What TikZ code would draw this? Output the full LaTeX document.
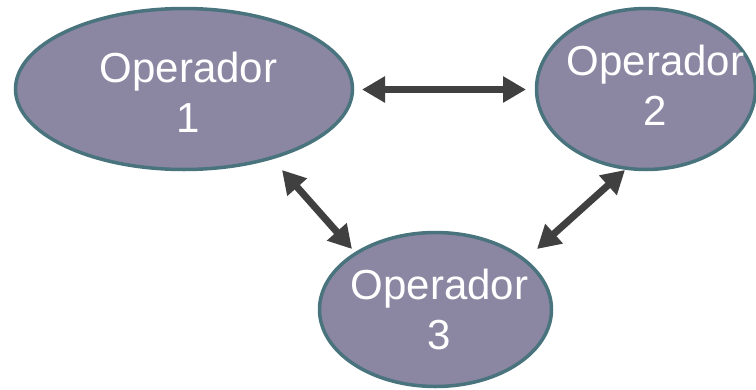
\documentclass[tikz,border=0pt]{standalone}
\usepackage{fontspec}
\setmainfont{Liberation Sans}
\usetikzlibrary{shapes.geometric,arrows.meta}
\definecolor{opfill}{RGB}{139,135,162}
\definecolor{opline}{RGB}{73,115,125}
\definecolor{arrgray}{RGB}{64,64,64}
\tikzset{
  opnode/.style={ellipse, draw=opline, fill=opfill, line width=3.5pt, inner sep=0pt, outer sep=0pt},
  oplabel/.style={text=white, align=center, inner sep=0pt, anchor=north,
    font=\fontsize{42pt}{50pt}\selectfont},
  biarrow/.style={draw=arrgray, line width=7pt,
    {Triangle[width=25pt,length=23pt]}-{Triangle[width=25pt,length=23pt]}}
}
\begin{document}
\begin{tikzpicture}[x=1pt,y=-1pt]
\useasboundingbox (0,0) rectangle (756,389);
\node[opnode, minimum width=337pt, minimum height=161pt] (e1) at (184,89) {};
\node[opnode, minimum width=219pt, minimum height=161pt] (e2) at (646,89) {};
\node[opnode, minimum width=232pt, minimum height=154pt] (e3) at (435.5,309.5) {};
\node[oplabel] (t1) at ([shift={(4.5,-37)}]e1.center) {Operador\\1};
\node[oplabel] (t2) at ([shift={(9.5,-44)}]e2.center) {Operador\\2};
\node[oplabel] (t3) at ([shift={(4,-40.5)}]e3.center) {Operador\\3};
\coordinate (h1) at ([shift={(178,0.5)}]e1.center);
\coordinate (h2) at ([shift={(-120,0.5)}]e2.center);
\coordinate (a1) at ([shift={(98,81)}]e1.center);
\coordinate (a3) at ([shift={(-83.5,-60.5)}]e3.center);
\coordinate (b2) at ([shift={(-21,81)}]e2.center);
\coordinate (b3) at ([shift={(101.5,-60.5)}]e3.center);
\draw[biarrow] (h1) -- (h2);
\draw[biarrow] (a1) -- (a3);
\draw[biarrow] (b2) -- (b3);
\end{tikzpicture}
\end{document}
